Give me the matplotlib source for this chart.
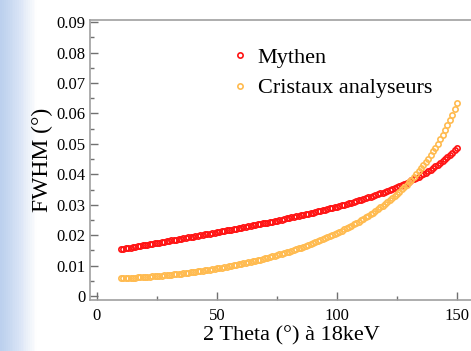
import numpy as np
import matplotlib
matplotlib.use("Agg")
import matplotlib.pyplot as plt
from matplotlib.colors import LinearSegmentedColormap

# 2 theta positions (deg) and FWHM
two_theta = list(range(10, 151))

fwhm_mythen = [
    0.01540, 0.01553, 0.01567, 0.01580, 0.01594, 0.01608, 0.01621, 0.01635, 0.01648, 0.01662,
    0.01675, 0.01689, 0.01703, 0.01716, 0.01730, 0.01744, 0.01757, 0.01771, 0.01785, 0.01798,
    0.01812, 0.01826, 0.01840, 0.01854, 0.01868, 0.01882, 0.01896, 0.01910, 0.01924, 0.01938,
    0.01952, 0.01966, 0.01980, 0.01995, 0.02009, 0.02023, 0.02038, 0.02052, 0.02066, 0.02081,
    0.02095, 0.02110, 0.02125, 0.02139, 0.02154, 0.02169, 0.02184, 0.02199, 0.02214, 0.02229,
    0.02244, 0.02259, 0.02275, 0.02290, 0.02305, 0.02321, 0.02337, 0.02352, 0.02368, 0.02384,
    0.02400, 0.02416, 0.02432, 0.02448, 0.02465, 0.02481, 0.02498, 0.02515, 0.02531, 0.02548,
    0.02565, 0.02583, 0.02600, 0.02617, 0.02635, 0.02653, 0.02671, 0.02689, 0.02707, 0.02725,
    0.02744, 0.02763, 0.02782, 0.02801, 0.02820, 0.02840, 0.02860, 0.02880, 0.02900, 0.02921,
    0.02941, 0.02962, 0.02984, 0.03005, 0.03027, 0.03049, 0.03072, 0.03095, 0.03118, 0.03142,
    0.03166, 0.03190, 0.03215, 0.03240, 0.03266, 0.03292, 0.03318, 0.03346, 0.03373, 0.03401,
    0.03430, 0.03460, 0.03490, 0.03521, 0.03553, 0.03585, 0.03618, 0.03652, 0.03687, 0.03723,
    0.03761, 0.03799, 0.03838, 0.03879, 0.03921, 0.03964, 0.04009, 0.04055, 0.04103, 0.04153,
    0.04205, 0.04260, 0.04316, 0.04375, 0.04437, 0.04502, 0.04570, 0.04641, 0.04716, 0.04796,
    0.04880,
]

fwhm_cristaux = [
    0.00580, 0.00584, 0.00588, 0.00592, 0.00596, 0.00601, 0.00606, 0.00611, 0.00616, 0.00621,
    0.00627, 0.00633, 0.00639, 0.00645, 0.00652, 0.00658, 0.00665, 0.00672, 0.00680, 0.00687,
    0.00695, 0.00703, 0.00712, 0.00720, 0.00729, 0.00738, 0.00747, 0.00757, 0.00767, 0.00777,
    0.00787, 0.00798, 0.00809, 0.00820, 0.00831, 0.00843, 0.00855, 0.00867, 0.00880, 0.00893,
    0.00906, 0.00920, 0.00933, 0.00947, 0.00962, 0.00976, 0.00991, 0.01007, 0.01022, 0.01039,
    0.01055, 0.01071, 0.01089, 0.01106, 0.01124, 0.01142, 0.01160, 0.01179, 0.01199, 0.01218,
    0.01238, 0.01259, 0.01280, 0.01301, 0.01323, 0.01345, 0.01368, 0.01391, 0.01414, 0.01438,
    0.01463, 0.01488, 0.01513, 0.01539, 0.01566, 0.01593, 0.01620, 0.01649, 0.01677, 0.01707,
    0.01737, 0.01767, 0.01798, 0.01830, 0.01863, 0.01896, 0.01930, 0.01965, 0.02000, 0.02036,
    0.02073, 0.02111, 0.02150, 0.02189, 0.02230, 0.02271, 0.02313, 0.02357, 0.02401, 0.02446,
    0.02493, 0.02540, 0.02589, 0.02639, 0.02691, 0.02743, 0.02797, 0.02853, 0.02910, 0.02969,
    0.03029, 0.03091, 0.03155, 0.03220, 0.03288, 0.03358, 0.03430, 0.03504, 0.03581, 0.03660,
    0.03742, 0.03827, 0.03914, 0.04005, 0.04100, 0.04198, 0.04300, 0.04406, 0.04517, 0.04632,
    0.04752, 0.04878, 0.05009, 0.05147, 0.05292, 0.05444, 0.05604, 0.05773, 0.05951, 0.06140,
    0.06340,
]

xticks = [0, 50, 100, 150]
yticks = [0, 0.01, 0.02, 0.03, 0.04, 0.05, 0.06, 0.07, 0.08, 0.09]
ytick_labels = ["0", "0.01", "0.02", "0.03", "0.04", "0.05", "0.06", "0.07", "0.08", "0.09"]

plt.rcParams['font.family'] = ['Liberation Serif', 'DejaVu Serif']

fig = plt.figure(figsize=(4.71, 3.51), dpi=100)

# slide background: light blue fading in from the left edge
bg = fig.add_axes([0, 0, 1, 1], zorder=-10)
grad = np.linspace(0, 1, 471)[None, :]
cmap = LinearSegmentedColormap.from_list(
    "slide", [(0.0, "#bcd0ee"), (0.035, "#d6e2f5"), (0.075, "#ffffff"), (1.0, "#ffffff")])
bg.imshow(grad, aspect="auto", cmap=cmap, extent=[0, 1, 0, 1])
bg.axis("off")

# the plot runs a little past the right edge of the slide crop
ax = fig.add_axes([90 / 471, 1 - 300 / 351, 403 / 471, 280 / 351])
ax.patch.set_alpha(0)

ax.plot(two_theta, fwhm_mythen, linestyle="none", marker="o", markersize=3.8,
        markerfacecolor="none", markeredgecolor="#ff1414", markeredgewidth=1.2,
        label="Mythen")
ax.plot(two_theta, fwhm_cristaux, linestyle="none", marker="o", markersize=3.8,
        markerfacecolor="none", markeredgecolor="#ffbb50", markeredgewidth=1.2,
        label="Cristaux analyseurs")

ax.set_xlim(-2.9, 165.0)
ax.set_ylim(-0.0013, 0.0907)
ax.set_xticks(xticks)
ax.set_xticks([25, 75, 125], minor=True)
ax.set_yticks(yticks)
ax.set_yticklabels(ytick_labels)
ax.set_yticks(np.arange(0.005, 0.09, 0.01), minor=True)

for side in ["left", "bottom", "top"]:
    ax.spines[side].set_color("#a0a0a0")
    ax.spines[side].set_linewidth(1.2)
ax.spines["right"].set_visible(False)

ax.tick_params(which="both", direction="in", color="#707070", labelsize=12)
ax.tick_params(which="major", length=6, width=1)
ax.tick_params(which="minor", length=3, width=1)
ax.tick_params(axis="x", pad=6)

ax.set_xlabel("2 Theta (°) à 18keV", fontsize=16, labelpad=1)
ax.set_ylabel("FWHM (°)", fontsize=17, labelpad=2)

ax.legend(loc="upper left", bbox_to_anchor=(0.296, 0.974), frameon=False,
          fontsize=16, handletextpad=0.27, labelspacing=0.45,
          handlelength=1.0, borderpad=0.4)

fig.savefig("out.png", dpi=100)
